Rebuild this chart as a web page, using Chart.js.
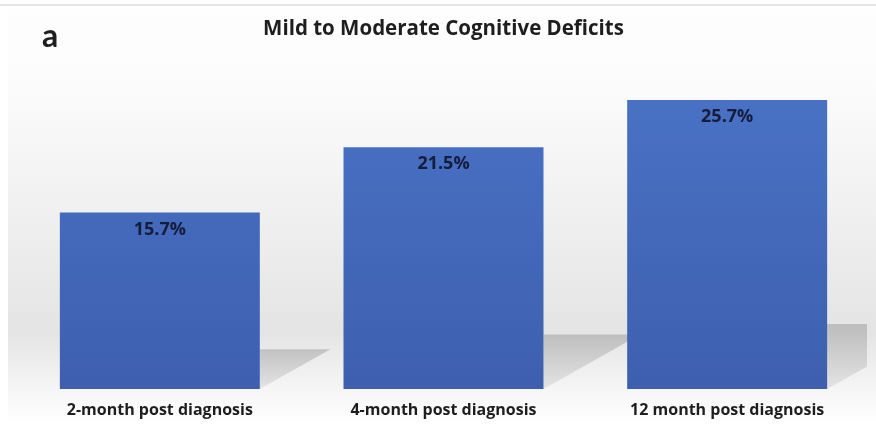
<!DOCTYPE html>
<html>
<head>
<meta charset="utf-8">
<script src="https://cdn.jsdelivr.net/npm/chart.js@4.4.1/dist/chart.umd.min.js"></script>
<style>
  html, body { margin: 0; padding: 0; background: #ffffff; }
  #wrap { position: relative; width: 876px; height: 425px; }
</style>
</head>
<body>
<div id="wrap">
  <canvas id="c" width="876" height="425"></canvas>
</div>
<script>
const categories = ["2-month post diagnosis", "4-month post diagnosis", "12 month post diagnosis"];
const values = [15.7, 21.5, 25.7];
const valueLabels = ["15.7%", "21.5%", "25.7%"];
const chartTitle = "Mild to Moderate Cognitive Deficits";
const panelLetter = "a";

const bgPlugin = {
  id: 'bg',
  beforeDraw(chart) {
    const ctx = chart.ctx, w = chart.width, h = chart.height;
    ctx.save();
    const g = ctx.createLinearGradient(0, 0, 0, h);
    g.addColorStop(0, '#fefefe');
    g.addColorStop(0.22, '#fbfbfb');
    g.addColorStop(0.55, '#eeeeee');
    g.addColorStop(0.78, '#e4e4e4');
    g.addColorStop(0.92, '#f6f6f6');
    g.addColorStop(1, '#ffffff');
    ctx.fillStyle = g;
    ctx.fillRect(8, 8, w - 8, h - 8);
    ctx.fillStyle = '#e6e6e6';
    ctx.fillRect(0, 4, w, 2);
    ctx.restore();
  },
  afterDraw(chart) {
    const ctx = chart.ctx;
    ctx.save();
    ctx.font = '700 32px Lato, sans-serif';
    ctx.fillStyle = '#1e1e1e';
    ctx.textAlign = 'left';
    ctx.textBaseline = 'alphabetic';
    ctx.fillText(panelLetter, 42, 47);
    ctx.restore();
  }
};

const shadowPlugin = {
  id: 'shadow',
  beforeDatasetsDraw(chart) {
    const ctx = chart.ctx;
    const meta = chart.getDatasetMeta(0);
    ctx.save();
    ctx.beginPath();
    ctx.rect(0, 0, 867, chart.height);
    ctx.clip();
    meta.data.forEach(bar => {
      const right = bar.x + bar.width / 2;
      const hgt = bar.base - bar.y;
      const top = bar.base - 0.225 * hgt;
      const dx = 0.4 * hgt;
      const g = ctx.createLinearGradient(right, top, right, bar.base);
      g.addColorStop(0, 'rgba(0,0,0,0.17)');
      g.addColorStop(1, 'rgba(0,0,0,0.07)');
      ctx.fillStyle = g;
      ctx.beginPath();
      ctx.moveTo(right, top);
      ctx.lineTo(right + dx, top);
      ctx.lineTo(right, bar.base);
      ctx.closePath();
      ctx.fill();
    });
    ctx.restore();
  }
};

const labelPlugin = {
  id: 'vlabels',
  afterDatasetsDraw(chart) {
    const ctx = chart.ctx;
    const meta = chart.getDatasetMeta(0);
    ctx.save();
    ctx.font = '700 18px "Open Sans", sans-serif';
    ctx.fillStyle = '#161c3c';
    ctx.textAlign = 'center';
    ctx.textBaseline = 'middle';
    meta.data.forEach((bar, i) => {
      ctx.fillText(valueLabels[i], bar.x, bar.y + 17);
    });
    ctx.restore();
  }
};

new Chart(document.getElementById('c'), {
  type: 'bar',
  data: {
    labels: categories,
    datasets: [{
      data: values,
      backgroundColor: (context) => {
        const chart = context.chart;
        const area = chart.chartArea;
        if (!area) return '#4570c2';
        const g = chart.ctx.createLinearGradient(0, area.top, 0, area.bottom);
        g.addColorStop(0, '#4a74c8');
        g.addColorStop(1, '#3e5fae');
        return g;
      },
      borderWidth: 0,
      barPercentage: 0.705,
      categoryPercentage: 1.0
    }]
  },
  options: {
    responsive: false,
    animation: false,
    devicePixelRatio: 1,
    layout: { padding: { left: 18, right: 7, top: 0, bottom: 0 } },
    plugins: {
      legend: { display: false },
      tooltip: { enabled: false },
      title: {
        display: true,
        text: chartTitle,
        color: '#1e1e1e',
        font: { family: '"Open Sans", sans-serif', size: 20.5, weight: '700' },
        padding: { top: 17, bottom: 10 }
      }
    },
    scales: {
      x: {
        grid: { display: false },
        border: { display: false },
        afterFit: (axis) => { axis.height = 36; },
        ticks: {
          color: '#1e1e1e',
          padding: 4,
          font: { family: '"Open Sans", sans-serif', size: 16, weight: '700' }
        }
      },
      y: {
        display: false,
        min: 0,
        max: 30
      }
    }
  },
  plugins: [bgPlugin, shadowPlugin, labelPlugin]
});
</script>
</body>
</html>
